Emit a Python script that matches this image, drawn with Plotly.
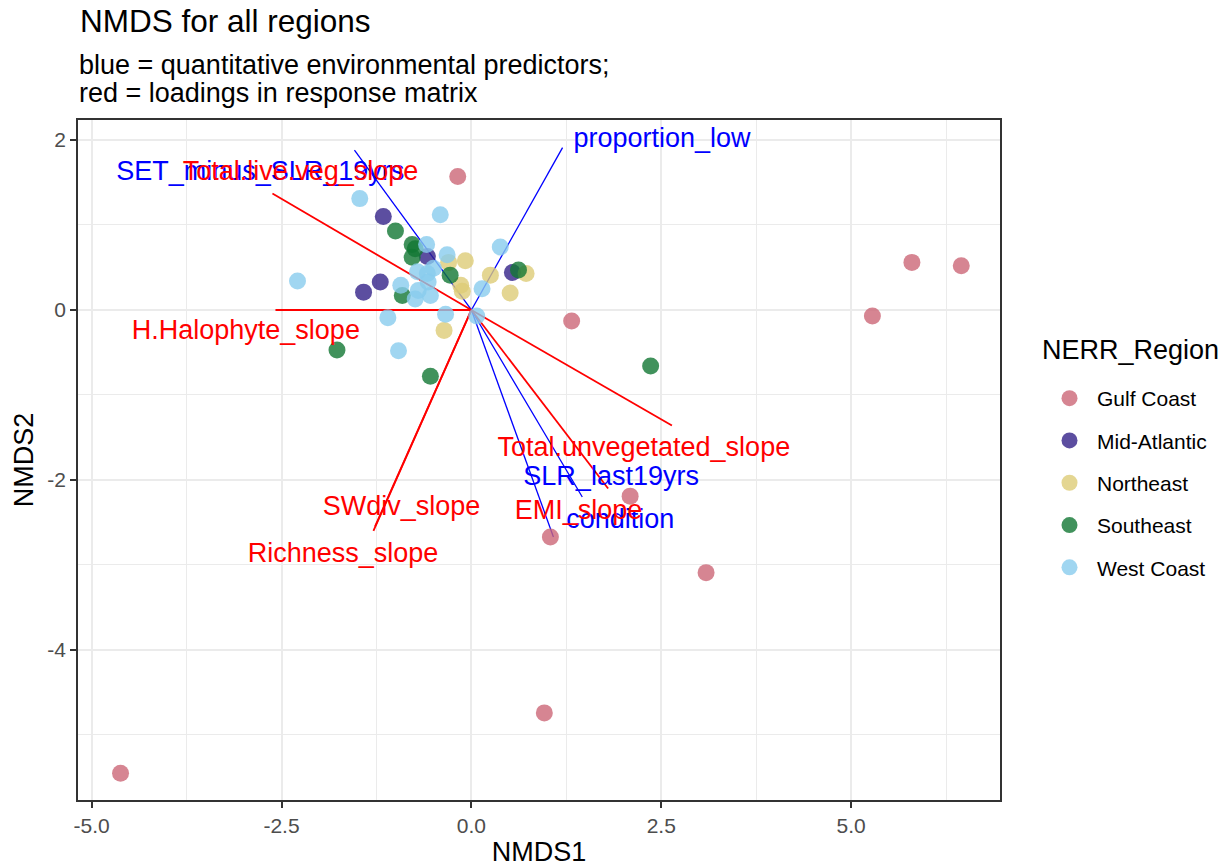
import plotly.graph_objects as go

# ---------------- data ----------------
regions = ["Gulf Coast", "Mid-Atlantic", "Northeast", "Southeast", "West Coast"]
region_colors = ["#CC6677", "#332288", "#DDCC77", "#117733", "#88CCEE"]

gulf_x = [-0.18, 1.32, 2.09, 1.04, 3.09, 0.96, -4.62, 5.28, 5.80, 6.45]
gulf_y = [1.57, -0.13, -2.19, -2.67, -3.09, -4.74, -5.45, -0.07, 0.56, 0.52]

midatl_x = [-1.16, -1.20, -1.42, -0.58, 0.54]
midatl_y = [1.10, 0.33, 0.21, 0.63, 0.44]

northeast_x = [-0.30, -0.08, 0.25, 0.51, 0.72, -0.14, -0.12, -0.36]
northeast_y = [0.56, 0.58, 0.41, 0.20, 0.43, 0.29, 0.22, -0.24]

southeast_x = [-1.00, -0.78, -0.74, -0.78, -0.28, -0.91, 0.62, -1.77, -0.54, 2.36]
southeast_y = [0.93, 0.77, 0.72, 0.62, 0.41, 0.17, 0.47, -0.47, -0.78, -0.66]

westcoast_x = [-1.47, -0.41, -2.29, -0.59, -0.32, 0.38, -0.71, -0.58, -0.50, -0.93,
               -0.70, -0.57, -0.74, -0.54, 0.14, -0.34, -1.10, 0.07, -0.96]
westcoast_y = [1.31, 1.12, 0.34, 0.77, 0.65, 0.74, 0.45, 0.43, 0.49, 0.29,
               0.23, 0.33, 0.13, 0.17, 0.25, -0.05, -0.09, -0.07, -0.48]

# environmental predictors (blue)
env_names = ["proportion_low", "SET_minus_SLR_19yrs", "SLR_last19yrs", "condition"]
env_x = [1.20, -1.54, 1.46, 1.08]
env_y = [1.91, 1.88, -2.20, -2.67]
env_label_x = [2.51, -2.78, 1.84, 1.96]
env_label_y = [2.00, 1.61, -1.98, -2.49]

# response loadings (red)
resp_names = ["Total.live.veg_slope", "H.Halophyte_slope", "Total.unvegetated_slope",
              "EMI_slope", "SWdiv_slope", "Richness_slope"]
resp_x = [-2.62, -2.58, 2.64, 1.80, -1.27, -1.29]
resp_y = [1.37, 0.00, -1.36, -2.10, -2.55, -2.60]
resp_label_x = [-2.25, -2.97, 2.27, 1.41, -0.92, -1.69]
resp_label_y = [1.61, -0.26, -1.64, -2.38, -2.33, -2.88]

x_ticks = [-5.0, -2.5, 0.0, 2.5, 5.0]
x_ticktext = ["-5.0", "-2.5", "0.0", "2.5", "5.0"]
y_ticks = [2, 0, -2, -4]
y_ticktext = ["2", "0", "-2", "-4"]

FONT = "Liberation Sans, Arial, sans-serif"

fig = go.Figure()

# vectors
for i, n in enumerate(env_names):
    fig.add_trace(go.Scatter(x=[0, env_x[i]], y=[0, env_y[i]], mode="lines",
                             line=dict(color="blue", width=1.3), showlegend=False,
                             hoverinfo="skip"))
for i, n in enumerate(resp_names):
    fig.add_trace(go.Scatter(x=[0, resp_x[i]], y=[0, resp_y[i]], mode="lines",
                             line=dict(color="red", width=1.8), showlegend=False,
                             hoverinfo="skip"))

# points
series = [(gulf_x, gulf_y), (midatl_x, midatl_y), (northeast_x, northeast_y),
          (southeast_x, southeast_y), (westcoast_x, westcoast_y)]
for (xs, ys), name, col in zip(series, regions, region_colors):
    fig.add_trace(go.Scatter(x=xs, y=ys, mode="markers", name=name, legendgroup=name,
                             marker=dict(color=col, size=17, opacity=0.8, line=dict(width=0))))

# labels
fig.add_trace(go.Scatter(x=env_label_x, y=env_label_y, mode="text", text=env_names,
                         textposition="middle center",
                         textfont=dict(color="blue", size=27, family=FONT),
                         showlegend=False, hoverinfo="skip"))
fig.add_trace(go.Scatter(x=resp_label_x, y=resp_label_y, mode="text", text=resp_names,
                         textposition="middle center",
                         textfont=dict(color="red", size=27, family=FONT),
                         showlegend=False, hoverinfo="skip"))

axis_common = dict(
    showgrid=True, gridcolor="#EBEBEB", gridwidth=2,
    zeroline=False, showline=True, linecolor="#333333", linewidth=1.5, mirror=True,
    ticks="outside", ticklen=6, tickwidth=1.5, tickcolor="#333333",
    tickfont=dict(size=21, color="#4D4D4D", family=FONT),
)

fig.update_layout(
    width=1228, height=867,
    margin=dict(l=78, r=228, t=120, b=67, autoexpand=False),
    paper_bgcolor="white", plot_bgcolor="white",
    font=dict(family=FONT, color="black"),
    title=dict(text="NMDS for all regions", font=dict(size=31.5, color="black", family=FONT),
               x=80 / 1228, xanchor="left", xref="container",
               y=1 - 21 / 867, yanchor="middle", yref="container"),
    xaxis=dict(range=[-5.18, 6.96], tickvals=x_ticks, ticktext=x_ticktext,
               minor=dict(tickvals=[-3.75, -1.25, 1.25, 3.75, 6.25], showgrid=True,
                          gridcolor="#EBEBEB", gridwidth=1, ticks=""),
               title=dict(text="NMDS1", font=dict(size=27, color="black", family=FONT), standoff=9),
               automargin=False, **axis_common),
    yaxis=dict(range=[-5.765, 2.235], tickvals=y_ticks, ticktext=y_ticktext,
               minor=dict(tickvals=[1, -1, -3, -5], showgrid=True,
                          gridcolor="#EBEBEB", gridwidth=1, ticks=""),
               title=dict(text="NMDS2", font=dict(size=27, color="black", family=FONT), standoff=6),
               automargin=False, **axis_common),
    legend=dict(font=dict(size=21, color="black", family=FONT),
                x=(1042 - 78) / 922, xanchor="left", y=(800 - 378) / 680, yanchor="top",
                tracegroupgap=12, itemsizing="trace", itemwidth=45,
                bgcolor="rgba(0,0,0,0)"),
    annotations=[
        dict(text="blue = quantitative environmental predictors;", xref="paper", yref="paper",
             x=-0.001, y=(800 - 65) / 680, xanchor="left", yanchor="middle", showarrow=False,
             font=dict(size=27, color="black", family=FONT)),
        dict(text="red = loadings in response matrix", xref="paper", yref="paper",
             x=-0.001, y=(800 - 93) / 680, xanchor="left", yanchor="middle", showarrow=False,
             font=dict(size=27, color="black", family=FONT)),
        dict(text="NERR_Region", xref="paper", yref="paper",
             x=(1040 - 78) / 922, y=(800 - 350) / 680, xanchor="left", yanchor="middle",
             showarrow=False, font=dict(size=27, color="black", family=FONT)),
    ],
)

fig.write_html("out.html")
